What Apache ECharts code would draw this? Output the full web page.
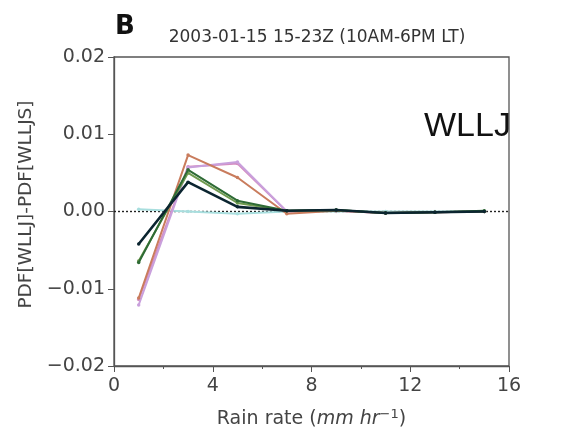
<!DOCTYPE html>
<html>
<head>
<meta charset="utf-8">
<script src="https://cdn.jsdelivr.net/npm/echarts@6/dist/echarts.min.js"></script>
<style>html,body{margin:0;padding:0;background:#fff}#c{width:562px;height:435px}</style>
</head>
<body>
<div id="c"></div>
<script>
const rainRate = [1, 3, 5, 7, 9, 11, 13, 15];
const xTicks = [0, 4, 8, 12, 16];
const yTicks = [-0.02, -0.01, 0.0, 0.01, 0.02];
const seriesNames = ['cyan', 'pink', 'violet', 'orange', 'lightgreen', 'green', 'navy'];
const cyanVals = [0.0003, 0.0000, -0.0003, 0.0000, 0.0000, 0.0000, 0.0000, 0.0000];
const pinkVals = [-0.0114, 0.0058, 0.0062, 0.0000, 0.0001, -0.0002, -0.0001, 0.0000];
const violetVals = [-0.0121, 0.0057, 0.0064, 0.0000, 0.0001, -0.0002, -0.0001, 0.0000];
const orangeVals = [-0.0112, 0.0073, 0.0044, -0.0003, 0.0001, -0.0002, -0.0001, 0.0000];
const lightGreenVals = [-0.0064, 0.0050, 0.0011, 0.0001, 0.0002, -0.0002, -0.0001, 0.0000];
const greenVals = [-0.0066, 0.0054, 0.0014, 0.0001, 0.0002, -0.0002, -0.0001, 0.0001];
const navyVals = [-0.0042, 0.0038, 0.0006, 0.0001, 0.0002, -0.0002, -0.0001, 0.0000];

const colors = ['#a8dede', '#d58cc0', '#c9a0dc', '#c97c5d', '#6f9a4f', '#2e6b35', '#0b2530'];
const valuesList = [cyanVals, pinkVals, violetVals, orangeVals, lightGreenVals, greenVals, navyVals];

const chart = echarts.init(document.getElementById('c'));
const fmtY = v => (v < 0 ? '\u2212' : '') + Math.abs(v).toFixed(2);

const series = valuesList.map((vals, i) => ({
  name: seriesNames[i],
  type: 'line',
  data: rainRate.map((x, j) => [x, vals[j]]),
  symbol: 'circle',
  symbolSize: 3.5,
  lineStyle: { color: colors[i], width: i === 6 ? 2.6 : 2 },
  itemStyle: { color: colors[i] },
  z: 2 + i,
  animation: false
}));
series.push({
  name: 'zero',
  type: 'line',
  data: [[0, 0], [16, 0]],
  symbol: 'none',
  lineStyle: { color: '#222', width: 1.4, type: [2, 2] },
  z: 1,
  animation: false
});

chart.setOption({
  animation: false,
  grid: { left: 114, right: 53, top: 57, bottom: 69 },
  title: [
    { text: 'B', left: 110, top: 9, textStyle: { fontFamily: 'DejaVu Sans', fontWeight: 'bold', fontSize: 26, color: '#111' } },
    { text: '2003-01-15 15-23Z (10AM-6PM LT)', left: 312, textAlign: 'center', top: 24, textStyle: { fontFamily: 'DejaVu Sans', fontWeight: 'normal', fontSize: 17, color: '#333' } },
    { text: 'WLLJ', left: 419, top: 105, textStyle: { fontFamily: 'Liberation Sans', fontWeight: 'normal', fontSize: 34, color: '#111' } }
  ],
  xAxis: {
    type: 'value', min: 0, max: 16, interval: 4,
    name: '{n|Rain rate (}{i|mm hr}{s|\u22121}{n|)}',
    nameLocation: 'middle', nameGap: 42,
    nameTextStyle: {
      rich: {
        n: { fontFamily: 'DejaVu Sans', fontSize: 19, color: '#444' },
        i: { fontFamily: 'DejaVu Sans', fontStyle: 'italic', fontSize: 19, color: '#444' },
        s: { fontFamily: 'DejaVu Sans', fontSize: 13, color: '#444', verticalAlign: 'top', padding: [0, 0, 9, 0] }
      }
    },
    axisLine: { show: true, onZero: false, lineStyle: { color: '#555', width: 1.3 } },
    axisTick: { show: true, inside: false, length: 6, lineStyle: { color: '#555' } },
    minorTick: { show: true, splitNumber: 2, length: 3, lineStyle: { color: '#555' } },
    axisLabel: { fontFamily: 'DejaVu Sans', fontSize: 19, color: '#444', margin: 11 },
    splitLine: { show: false }
  },
  yAxis: {
    type: 'value', min: -0.02, max: 0.02, interval: 0.01,
    name: 'PDF[WLLJ]-PDF[WLLJS]',
    nameLocation: 'middle', nameGap: 75, nameRotate: 90,
    nameTextStyle: { fontFamily: 'DejaVu Sans', fontSize: 18.5, color: '#444', padding: [0, 0, 0, 14] },
    axisLine: { show: true, lineStyle: { color: '#555', width: 1.3 } },
    axisTick: { show: true, length: 6, lineStyle: { color: '#555' } },
    axisLabel: { fontFamily: 'DejaVu Sans', fontSize: 19, color: '#444', margin: 9, formatter: fmtY },
    splitLine: { show: false }
  },
  graphic: [{
    type: 'rect', shape: { x: 114, y: 57, width: 395, height: 309 },
    style: { fill: 'none', stroke: '#555', lineWidth: 1.3 }, silent: true, z: 0
  }],
  series: series
});
</script>
</body>
</html>
